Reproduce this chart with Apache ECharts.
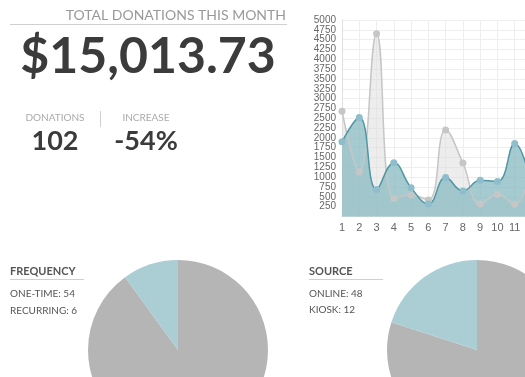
<!DOCTYPE html>
<html>
<head>
<meta charset="utf-8">
<script src="https://cdn.jsdelivr.net/npm/echarts@6/dist/echarts.min.js"></script>
<style>
html, body { margin: 0; padding: 0; background: #fff; }
#main { width: 525px; height: 377px; }
</style>
</head>
<body>
<div id="main"></div>
<script>
// days of the month on the x axis
const days = ['1', '2', '3', '4', '5', '6', '7', '8', '9', '10', '11', '12'];
// grey series (back) and teal series (front)
const lastPeriod = [2680, 1130, 4650, 460, 550, 420, 2200, 1360, 320, 560, 310, 1400];
const thisPeriod = [1900, 2520, 690, 1370, 730, 320, 990, 650, 920, 890, 1860, 700];

const frequency = [
    { name: 'ONE-TIME', value: 54 },
    { name: 'RECURRING', value: 6 }
];
const source = [
    { name: 'ONLINE', value: 48 },
    { name: 'KIOSK', value: 12 }
];

const total = '$15,013.73';
const donations = '102';
const increase = '-54%';

const grey = '#b5b5b5';
const blue = '#abcdd4';
const font = 'Lato, "Open Sans", sans-serif';

function txt(text, x, y, size, weight, color, align) {
    return {
        type: 'text',
        silent: true,
        style: {
            text: text, x: x, y: y,
            fontSize: size, fontWeight: weight, fontFamily: font,
            fill: color, align: align || 'left', verticalAlign: 'middle'
        }
    };
}
function rule(x1, y1, x2, y2) {
    return {
        type: 'line',
        silent: true,
        shape: { x1: x1, y1: y1, x2: x2, y2: y2 },
        style: { stroke: '#d0d0d0', lineWidth: 1 }
    };
}

const graphics = [
    txt('TOTAL DONATIONS THIS MONTH', 286, 15, 14, 'normal', '#999', 'right'),
    rule(10, 24.5, 287, 24.5),
    txt(total, 148, 57, 50, 'bold', '#3b3b3b', 'center'),
    txt('DONATIONS', 55, 118, 10, 'normal', '#aaa', 'center'),
    txt(donations, 55, 141, 27, 'bold', '#3b3b3b', 'center'),
    rule(100.5, 111, 100.5, 127),
    txt('INCREASE', 146, 118, 10, 'normal', '#aaa', 'center'),
    txt(increase, 146, 141, 27, 'bold', '#3b3b3b', 'center'),

    txt('FREQUENCY', 10, 271, 11, 'bold', '#555'),
    rule(10, 279.5, 84, 279.5),
    txt(frequency[0].name + ': ' + frequency[0].value, 10, 294, 10, 'normal', '#555'),
    txt(frequency[1].name + ': ' + frequency[1].value, 10, 311, 10, 'normal', '#555'),

    txt('SOURCE', 309, 271, 11, 'bold', '#555'),
    rule(309, 279.5, 383, 279.5),
    txt(source[0].name + ': ' + source[0].value, 309, 294, 10, 'normal', '#555'),
    txt(source[1].name + ': ' + source[1].value, 309, 310, 10, 'normal', '#555')
];

const chart = echarts.init(document.getElementById('main'));
chart.setOption({
    animation: false,
    graphic: graphics,
    grid: { left: 342, top: 20, width: 190, height: 196.5, outerBoundsMode: 'none' },
    xAxis: {
        type: 'category',
        boundaryGap: false,
        data: days,
        axisLine: { lineStyle: { color: '#e0e0e0' } },
        axisTick: { show: false },
        axisLabel: { color: '#666', fontSize: 11, margin: 6, interval: 0, fontFamily: 'Liberation Sans, Arial, sans-serif' },
        splitLine: { show: true, interval: 0, lineStyle: { color: '#eeeeee' } }
    },
    yAxis: {
        type: 'value',
        min: 0,
        max: 5000,
        interval: 250,
        axisLine: { show: true, lineStyle: { color: '#e0e0e0' } },
        axisTick: { show: false },
        axisLabel: {
            color: '#666', fontSize: 10, margin: 6,
            fontFamily: 'Liberation Sans, Arial, sans-serif',
            formatter: v => v === 0 ? '' : String(v)
        },
        splitLine: { lineStyle: { color: '#eeeeee' } }
    },
    series: [{
        type: 'line',
        data: lastPeriod,
        smooth: 0.45,
        symbol: 'circle',
        symbolSize: 7,
        silent: true,
        itemStyle: { color: '#c6c6c6' },
        lineStyle: { color: '#c6c6c6', width: 1.5 },
        areaStyle: { color: 'rgba(220,220,220,0.5)', opacity: 1 }
    }, {
        type: 'line',
        data: thisPeriod,
        smooth: 0.45,
        symbol: 'circle',
        symbolSize: 7,
        silent: true,
        itemStyle: { color: '#8fbdcc' },
        lineStyle: { color: '#4f97a5', width: 1.5 },
        areaStyle: { color: 'rgba(140,188,196,0.78)', opacity: 1 }
    }, {
        type: 'pie',
        center: [178, 350],
        radius: 90,
        silent: true,
        label: { show: false },
        labelLine: { show: false },
        data: frequency,
        color: [grey, blue]
    }, {
        type: 'pie',
        center: [477, 350],
        radius: 90,
        silent: true,
        label: { show: false },
        labelLine: { show: false },
        data: source,
        color: [grey, blue]
    }]
});
</script>
</body>
</html>
